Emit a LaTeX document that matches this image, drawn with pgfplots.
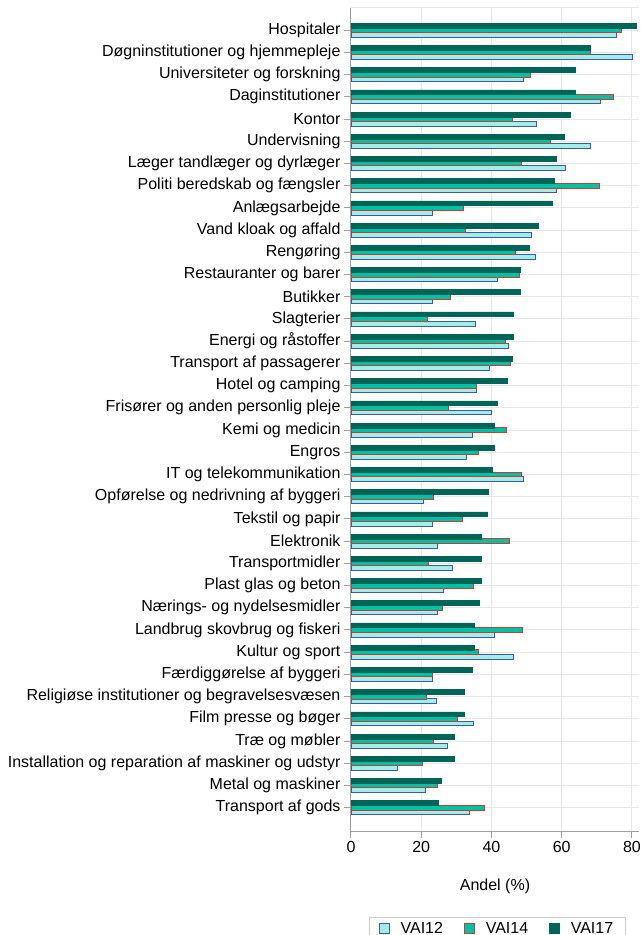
\documentclass[border=0pt]{standalone}
\usepackage{pgfplots}
\usepackage{pgfplotstable}
\usepackage{fontspec}
\setmainfont{Liberation Sans}
\pgfplotsset{compat=1.18}

\definecolor{c12fill}{RGB}{160,238,230}
\definecolor{c12draw}{RGB}{60,90,170}
\definecolor{c14fill}{RGB}{0,192,166}
\definecolor{c14draw}{RGB}{200,60,50}
\definecolor{c17fill}{RGB}{0,100,88}
\definecolor{gridgray}{RGB}{230,230,230}
\definecolor{axisgray}{RGB}{160,160,160}

% idx 0 = top category (Hospitaler)
\pgfplotstableread{
idx v12 v14 v17
0 75.5 77.1 81.3
1 80.1 68.2 68.0
2 49.1 51.2 64.0
3 71.0 74.6 63.9
4 52.9 45.9 62.3
5 68.3 56.9 60.6
6 61.1 48.4 58.5
7 58.6 70.6 57.8
8 23.1 31.9 57.2
9 51.5 32.6 53.4
10 52.6 46.9 50.9
11 41.6 47.9 48.3
12 23.1 28.2 48.2
13 35.5 21.7 46.3
14 44.9 43.9 46.2
15 39.3 45.4 46.0
16 35.7 35.7 44.5
17 40.0 27.7 41.6
18 34.7 44.2 40.9
19 32.9 36.2 40.7
20 49.1 48.4 40.3
21 20.6 23.4 39.1
22 23.1 31.7 38.9
23 24.6 45.0 37.2
24 28.8 21.9 37.1
25 26.3 34.8 37.0
26 24.5 26.1 36.4
27 40.9 48.7 35.0
28 46.2 36.2 35.0
29 23.3 23.1 34.5
30 24.2 21.5 32.2
31 34.8 30.3 32.2
32 27.4 23.4 29.5
33 13.1 20.2 29.5
34 21.3 24.5 25.7
35 33.6 37.9 25.0
}\vai

\begin{document}
\begin{tikzpicture}
\begin{axis}[
  name=ax,
  scale only axis,
  width=288pt, height=823pt,
  xbar, bar width=4.8pt,
  xmin=0, xmax=82,
  ymin=-1.05, ymax=36,
  xtick={0,20,40,60,80},
  ytick={0,...,35},
  yticklabels={Transport af gods, Metal og maskiner,
    Installation og reparation af maskiner og udstyr, Træ og møbler,
    Film presse og bøger, Religiøse institutioner og begravelsesvæsen,
    Færdiggørelse af byggeri, Kultur og sport, Landbrug skovbrug og fiskeri,
    Nærings- og nydelsesmidler, Plast glas og beton, Transportmidler,
    Elektronik, Tekstil og papir, Opførelse og nedrivning af byggeri,
    IT og telekommunikation, Engros, Kemi og medicin,
    Frisører og anden personlig pleje, Hotel og camping,
    Transport af passagerer, Energi og råstoffer, Slagterier, Butikker,
    Restauranter og barer, Rengøring, Vand kloak og affald, Anlægsarbejde,
    Politi beredskab og fængsler, Læger tandlæger og dyrlæger, Undervisning,
    Kontor, Daginstitutioner, Universiteter og forskning,
    Døgninstitutioner og hjemmepleje, Hospitaler},
  axis x line*=bottom, axis y line*=left,
  axis line style={axisgray, line width=1pt},
  tick align=outside,
  major tick length=7pt,
  xtick style={axisgray, line width=1pt},
  ytick style={axisgray, line width=1pt},
  grid=major,
  grid style={gridgray, line width=1pt},
  extra x ticks={82}, extra x tick labels={},
  extra x tick style={grid=none, major tick length=0pt},
  tick label style={font=\fontsize{16}{19}\selectfont, text=black},
  /pgf/number format/assume math mode=true,
  xlabel={Andel (\%)},
  xlabel style={font=\fontsize{16}{19}\selectfont, yshift=-12pt},
  legend columns=3,
  legend style={at={(0.507,-0.1045)}, anchor=north,
    draw=gray!40, font=\fontsize{16}{19}\selectfont,
    inner xsep=10pt, inner ysep=3pt,
    /tikz/every odd column/.append style={column sep=9pt},
    /tikz/every even column/.append style={column sep=19pt}},
  legend image code/.code={\draw[#1] (0pt,-5pt) rectangle (10pt,5pt);},
]
\addplot[fill=c12fill, draw=c12draw, line width=0.8pt, bar shift=-4.6pt]
  table[x=v12, y expr=35-\thisrow{idx}] {\vai};
\addlegendentry{VAI12}
\addplot[fill=c14fill, draw=c14draw, line width=0.8pt, bar shift=0pt]
  table[x=v14, y expr=35-\thisrow{idx}] {\vai};
\addlegendentry{VAI14}
\addplot[fill=c17fill, draw=c17fill, line width=0.6pt, bar shift=4.6pt]
  table[x=v17, y expr=35-\thisrow{idx}] {\vai};
\addlegendentry{VAI17}
\draw[gridgray, line width=1pt] (rel axis cs:0,1) -- (rel axis cs:1,1);
\end{axis}
\pgfresetboundingbox
\path[use as bounding box] ([xshift=-351pt,yshift=8pt]ax.north west)
  rectangle ([xshift=2pt,yshift=-104pt]ax.south east);
\end{tikzpicture}
\end{document}
